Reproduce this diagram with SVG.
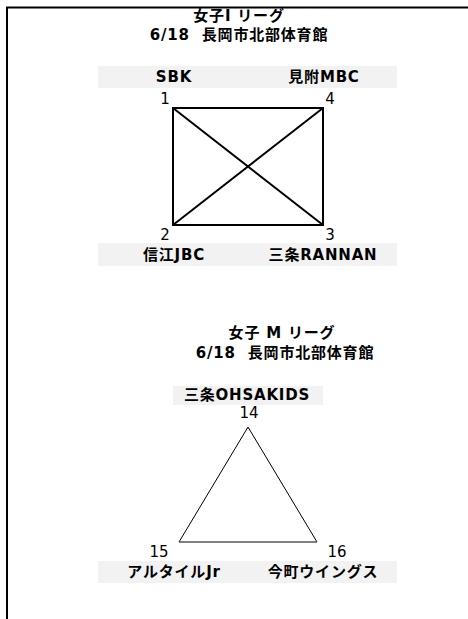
<svg xmlns="http://www.w3.org/2000/svg" width="468" height="619" viewBox="0 0 468 619">
<style>
.t{font-family:"DejaVu Sans","Noto Sans CJK JP",sans-serif;font-weight:bold;font-size:15px;letter-spacing:0.8px;fill:#000;text-anchor:middle}
.n{font-family:"DejaVu Sans","Noto Sans CJK JP",sans-serif;font-size:15px;fill:#000;text-anchor:middle}
.band{fill:#f2f2f2}
.thick{stroke:#000;stroke-width:2;fill:none}
.thin{stroke:#000;stroke-width:1;fill:none}
</style>
<rect width="468" height="619" fill="#fff"/>
<g id="frame"><path d="M7 619 V7.5 H468" class="thick"/></g>
<g id="title1">
<text class="t" x="239" y="21">女子I リーグ</text>
<text class="t" x="239" y="40" xml:space="preserve">6/18  長岡市北部体育館</text>
</g>
<g id="bands">
<rect class="band" x="98" y="66" width="299" height="22"/>
<rect class="band" x="98" y="243" width="299" height="23"/>
<rect class="band" x="173" y="386" width="150" height="19"/>
<rect class="band" x="98" y="561" width="299" height="22"/>
</g>
<g id="connectors">
<rect x="173" y="108" width="150" height="117" class="thick"/>
<line x1="173" y1="108" x2="323" y2="225" class="thick"/>
<line x1="323" y1="108" x2="173" y2="225" class="thick"/>
<line x1="248" y1="427" x2="179" y2="542" class="thin"/>
<line x1="248" y1="427" x2="317" y2="542" class="thin"/>
<line x1="179" y1="542" x2="317" y2="542" stroke="#555" stroke-width="1.5"/>
</g>
<g id="node1"><text class="t" x="174" y="82">SBK</text><text class="n" x="165" y="104">1</text></g>
<g id="node4"><text class="t" x="324" y="82">見附MBC</text><text class="n" x="330" y="104">4</text></g>
<g id="node2"><text class="n" x="165" y="240">2</text><text class="t" x="174" y="260">信江JBC</text></g>
<g id="node3"><text class="n" x="330" y="240">3</text><text class="t" x="323" y="260">三条RANNAN</text></g>
<g id="title2">
<text class="t" x="282" y="338" xml:space="preserve">女子 M リーグ</text>
<text class="t" x="285" y="358" xml:space="preserve">6/18  長岡市北部体育館</text>
</g>
<g id="node14"><text class="t" x="247" y="400">三条OHSAKIDS</text><text class="n" x="249" y="418">14</text></g>
<g id="node15"><text class="n" x="159" y="557">15</text><text class="t" x="174" y="577">アルタイルJr</text></g>
<g id="node16"><text class="n" x="337" y="557">16</text><text class="t" x="323" y="577">今町ウイングス</text></g>
</svg>
